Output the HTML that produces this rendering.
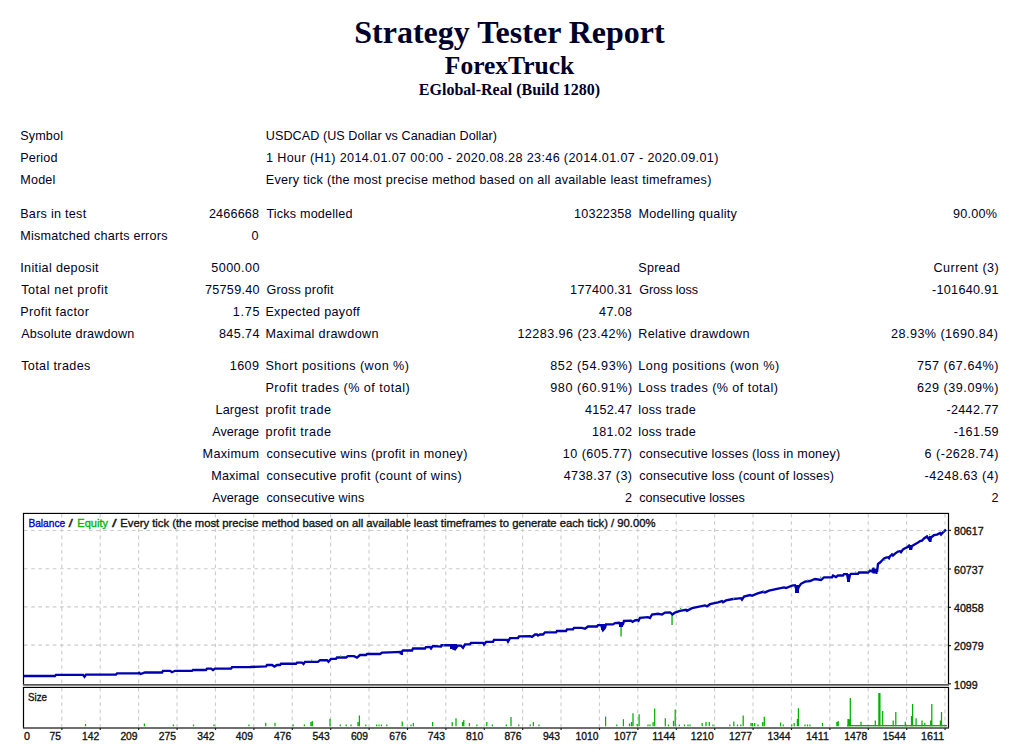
<!DOCTYPE html>
<html><head><meta charset="utf-8"><title>Strategy Tester: ForexTruck</title>
<style>
html,body{margin:0;padding:0;background:#fff;}
body{width:1019px;height:754px;overflow:hidden;position:relative;color:#00002a;}
.t{position:absolute;left:0;width:1019px;text-align:center;font-family:"Liberation Serif",serif;font-weight:bold;white-space:nowrap;}
.c{position:absolute;font-family:"Liberation Sans",sans-serif;font-size:12.6px;line-height:22px;letter-spacing:0.25px;white-space:nowrap;color:#000024;}
.r{text-align:right;}
#chart{position:absolute;left:0;top:0;}
</style></head>
<body>
<div class="t" id="t1" style="top:12px;font-size:32px;line-height:40px;">Strategy Tester Report</div>
<div class="t" id="t2" style="top:51px;font-size:25.5px;line-height:30px;">ForexTruck</div>
<div class="t" id="t3" style="top:80px;font-size:16px;line-height:20px;">EGlobal-Real (Build 1280)</div>
<div class="c" style="top:124.7px;left:20.2px;letter-spacing:0.160px">Symbol</div>
<div class="c" style="top:124.7px;left:265.8px;letter-spacing:0.064px">USDCAD (US Dollar vs Canadian Dollar)</div>
<div class="c" style="top:146.7px;left:20.2px;letter-spacing:0.180px">Period</div>
<div class="c" style="top:146.7px;left:266.0px;letter-spacing:0.371px">1 Hour (H1) 2014.01.07 00:00 - 2020.08.28 23:46 (2014.01.07 - 2020.09.01)</div>
<div class="c" style="top:168.8px;left:20.2px;letter-spacing:0.225px">Model</div>
<div class="c" style="top:168.8px;left:265.8px;letter-spacing:0.276px">Every tick (the most precise method based on all available least timeframes)</div>
<div class="c" style="top:202.5px;left:20.2px;letter-spacing:0.273px">Bars in test</div>
<div class="c" style="top:202.5px;left:208.9px;letter-spacing:0.183px">2466668</div>
<div class="c" style="top:202.5px;left:266.4px;letter-spacing:0.192px">Ticks modelled</div>
<div class="c" style="top:202.5px;left:574.1px;letter-spacing:0.186px">10322358</div>
<div class="c" style="top:202.5px;left:638.5px;letter-spacing:0.288px">Modelling quality</div>
<div class="c" style="top:202.5px;left:953.0px;letter-spacing:0.260px">90.00%</div>
<div class="c" style="top:224.5px;left:20.2px;letter-spacing:0.226px">Mismatched charts errors</div>
<div class="c" style="top:224.5px;left:251.6px;letter-spacing:0.000px">0</div>
<div class="c" style="top:256.7px;left:20.2px;letter-spacing:0.350px">Initial deposit</div>
<div class="c" style="top:256.7px;left:211.2px;letter-spacing:0.467px">5000.00</div>
<div class="c" style="top:256.7px;left:638.3px;letter-spacing:0.220px">Spread</div>
<div class="c" style="top:256.7px;left:933.6px;letter-spacing:0.420px">Current (3)</div>
<div class="c" style="top:278.7px;left:21.2px;letter-spacing:0.500px">Total net profit</div>
<div class="c" style="top:278.7px;left:205.0px;letter-spacing:0.286px">75759.40</div>
<div class="c" style="top:278.7px;left:266.4px;letter-spacing:0.191px">Gross profit</div>
<div class="c" style="top:278.7px;left:570.1px;letter-spacing:0.312px">177400.31</div>
<div class="c" style="top:278.7px;left:639.3px;letter-spacing:-0.089px">Gross loss</div>
<div class="c" style="top:278.7px;left:931.9px;letter-spacing:0.322px">-101640.91</div>
<div class="c" style="top:300.7px;left:20.2px;letter-spacing:0.358px">Profit factor</div>
<div class="c" style="top:300.7px;left:232.7px;letter-spacing:0.767px">1.75</div>
<div class="c" style="top:300.7px;left:265.4px;letter-spacing:0.314px">Expected payoff</div>
<div class="c" style="top:300.7px;left:599.0px;letter-spacing:0.400px">47.08</div>
<div class="c" style="top:322.7px;left:21.2px;letter-spacing:0.200px">Absolute drawdown</div>
<div class="c" style="top:322.7px;left:218.9px;letter-spacing:0.420px">845.74</div>
<div class="c" style="top:322.7px;left:265.4px;letter-spacing:0.353px">Maximal drawdown</div>
<div class="c" style="top:322.7px;left:517.4px;letter-spacing:0.450px">12283.96 (23.42%)</div>
<div class="c" style="top:322.7px;left:638.3px;letter-spacing:0.300px">Relative drawdown</div>
<div class="c" style="top:322.7px;left:891.1px;letter-spacing:0.447px">28.93% (1690.84)</div>
<div class="c" style="top:354.5px;left:21.2px;letter-spacing:0.364px">Total trades</div>
<div class="c" style="top:354.5px;left:229.8px;letter-spacing:0.400px">1609</div>
<div class="c" style="top:354.5px;left:265.4px;letter-spacing:0.482px">Short positions (won %)</div>
<div class="c" style="top:354.5px;left:550.3px;letter-spacing:0.573px">852 (54.93%)</div>
<div class="c" style="top:354.5px;left:638.3px;letter-spacing:0.471px">Long positions (won %)</div>
<div class="c" style="top:354.5px;left:916.9px;letter-spacing:0.536px">757 (67.64%)</div>
<div class="c" style="top:376.7px;left:265.4px;letter-spacing:0.480px">Profit trades (% of total)</div>
<div class="c" style="top:376.7px;left:550.3px;letter-spacing:0.573px">980 (60.91%)</div>
<div class="c" style="top:376.7px;left:638.3px;letter-spacing:0.439px">Loss trades (% of total)</div>
<div class="c" style="top:376.7px;left:916.9px;letter-spacing:0.536px">629 (39.09%)</div>
<div class="c" style="top:398.5px;left:215.5px;letter-spacing:0.150px">Largest</div>
<div class="c" style="top:398.5px;left:265.4px;letter-spacing:0.491px">profit trade</div>
<div class="c" style="top:398.5px;left:584.9px;letter-spacing:0.283px">4152.47</div>
<div class="c" style="top:398.5px;left:638.3px;letter-spacing:0.311px">loss trade</div>
<div class="c" style="top:398.5px;left:946.4px;letter-spacing:0.343px">-2442.77</div>
<div class="c" style="top:420.5px;left:212.2px;letter-spacing:0.033px">Average</div>
<div class="c" style="top:420.5px;left:265.4px;letter-spacing:0.491px">profit trade</div>
<div class="c" style="top:420.5px;left:591.9px;letter-spacing:0.340px">181.02</div>
<div class="c" style="top:420.5px;left:638.3px;letter-spacing:0.311px">loss trade</div>
<div class="c" style="top:420.5px;left:953.7px;letter-spacing:0.350px">-161.59</div>
<div class="c" style="top:443.0px;left:202.6px;letter-spacing:0.300px">Maximum</div>
<div class="c" style="top:443.0px;left:266.4px;letter-spacing:0.345px">consecutive wins (profit in money)</div>
<div class="c" style="top:443.0px;left:562.7px;letter-spacing:0.490px">10 (605.77)</div>
<div class="c" style="top:443.0px;left:639.3px;letter-spacing:0.191px">consecutive losses (loss in money)</div>
<div class="c" style="top:443.0px;left:924.6px;letter-spacing:0.473px">6 (-2628.74)</div>
<div class="c" style="top:465.0px;left:211.2px;letter-spacing:0.200px">Maximal</div>
<div class="c" style="top:465.0px;left:266.4px;letter-spacing:0.358px">consecutive profit (count of wins)</div>
<div class="c" style="top:465.0px;left:563.7px;letter-spacing:0.390px">4738.37 (3)</div>
<div class="c" style="top:465.0px;left:639.3px;letter-spacing:0.194px">consecutive loss (count of losses)</div>
<div class="c" style="top:465.0px;left:924.6px;letter-spacing:0.473px">-4248.63 (4)</div>
<div class="c" style="top:487.0px;left:212.2px;letter-spacing:0.033px">Average</div>
<div class="c" style="top:487.0px;left:266.4px;letter-spacing:0.180px">consecutive wins</div>
<div class="c" style="top:487.0px;left:625.1px;letter-spacing:0.000px">2</div>
<div class="c" style="top:487.0px;left:639.3px;letter-spacing:-0.012px">consecutive losses</div>
<div class="c" style="top:487.0px;left:991.6px;letter-spacing:0.000px">2</div>
<svg id="chart" width="1019" height="754" viewBox="0 0 1019 754" style="position:absolute;left:0;top:0">
<path d="M61.80 514V684 M61.80 688V727 M100.20 514V684 M100.20 688V727 M138.60 514V684 M138.60 688V727 M177.00 514V684 M177.00 688V727 M215.40 514V684 M215.40 688V727 M253.80 514V684 M253.80 688V727 M292.20 514V684 M292.20 688V727 M330.60 514V684 M330.60 688V727 M369.00 514V684 M369.00 688V727 M407.40 514V684 M407.40 688V727 M445.80 514V684 M445.80 688V727 M484.20 514V684 M484.20 688V727 M522.60 514V684 M522.60 688V727 M561.00 514V684 M561.00 688V727 M599.40 514V684 M599.40 688V727 M637.80 514V684 M637.80 688V727 M676.20 514V684 M676.20 688V727 M714.60 514V684 M714.60 688V727 M753.00 514V684 M753.00 688V727 M791.40 514V684 M791.40 688V727 M829.80 514V684 M829.80 688V727 M868.20 514V684 M868.20 688V727 M906.60 514V684 M906.60 688V727 M945.00 514V684 M945.00 688V727 M24 530.50H948 M24 568.70H948 M24 606.90H948 M24 645.10H948" stroke="#cbcbcb" stroke-width="1.1" stroke-dasharray="3.6 3.6" fill="none"/>
<rect x="23" y="512" width="926" height="1" fill="#d8d8d8"/>
<path d="M23.5 685V513.5H948.5V685" stroke="#000" stroke-width="1.2" fill="none"/>
<rect x="23" y="684" width="926" height="1" fill="#555"/>
<rect x="23" y="685" width="926" height="1" fill="#8a8a8a"/>
<rect x="23" y="686" width="926" height="1" fill="#d4d4d4"/>
<path d="M23.5 728V687.5H948.5V728" stroke="#000" stroke-width="1.2" fill="none"/>
<rect x="23" y="727.3" width="926" height="1.4" fill="#333"/>
<rect x="949" y="529.8" width="2" height="1.2" fill="#222"/>
<rect x="949" y="568.4" width="2" height="1.2" fill="#222"/>
<rect x="949" y="606.7" width="2" height="1.2" fill="#222"/>
<rect x="949" y="645.0" width="2" height="1.2" fill="#222"/>
<rect x="949" y="683.2" width="2" height="1.2" fill="#222"/>
<rect x="61.30" y="728" width="1.2" height="2" fill="#222"/>
<rect x="99.70" y="728" width="1.2" height="2" fill="#222"/>
<rect x="138.10" y="728" width="1.2" height="2" fill="#222"/>
<rect x="176.50" y="728" width="1.2" height="2" fill="#222"/>
<rect x="214.90" y="728" width="1.2" height="2" fill="#222"/>
<rect x="253.30" y="728" width="1.2" height="2" fill="#222"/>
<rect x="291.70" y="728" width="1.2" height="2" fill="#222"/>
<rect x="330.10" y="728" width="1.2" height="2" fill="#222"/>
<rect x="368.50" y="728" width="1.2" height="2" fill="#222"/>
<rect x="406.90" y="728" width="1.2" height="2" fill="#222"/>
<rect x="445.30" y="728" width="1.2" height="2" fill="#222"/>
<rect x="483.70" y="728" width="1.2" height="2" fill="#222"/>
<rect x="522.10" y="728" width="1.2" height="2" fill="#222"/>
<rect x="560.50" y="728" width="1.2" height="2" fill="#222"/>
<rect x="598.90" y="728" width="1.2" height="2" fill="#222"/>
<rect x="637.30" y="728" width="1.2" height="2" fill="#222"/>
<rect x="675.70" y="728" width="1.2" height="2" fill="#222"/>
<rect x="714.10" y="728" width="1.2" height="2" fill="#222"/>
<rect x="752.50" y="728" width="1.2" height="2" fill="#222"/>
<rect x="790.90" y="728" width="1.2" height="2" fill="#222"/>
<rect x="829.30" y="728" width="1.2" height="2" fill="#222"/>
<rect x="867.70" y="728" width="1.2" height="2" fill="#222"/>
<rect x="906.10" y="728" width="1.2" height="2" fill="#222"/>
<rect x="944.50" y="728" width="1.2" height="2" fill="#222"/>
<text x="954" y="535.2" font-family="Liberation Sans" font-size="11.6" stroke-width="0.35" fill="#111" stroke="#111" textLength="29.6" lengthAdjust="spacingAndGlyphs">80617</text>
<text x="954" y="573.8" font-family="Liberation Sans" font-size="11.6" stroke-width="0.35" fill="#111" stroke="#111" textLength="29.6" lengthAdjust="spacingAndGlyphs">60737</text>
<text x="954" y="612.1" font-family="Liberation Sans" font-size="11.6" stroke-width="0.35" fill="#111" stroke="#111" textLength="29.6" lengthAdjust="spacingAndGlyphs">40858</text>
<text x="954" y="650.4" font-family="Liberation Sans" font-size="11.6" stroke-width="0.35" fill="#111" stroke="#111" textLength="29.6" lengthAdjust="spacingAndGlyphs">20979</text>
<text x="954" y="688.6" font-family="Liberation Sans" font-size="11.6" stroke-width="0.35" fill="#111" stroke="#111" textLength="23.7" lengthAdjust="spacingAndGlyphs">1099</text>
<text x="24" y="740.3" font-family="Liberation Sans" font-size="11.6" stroke-width="0.35" fill="#111" stroke="#111" textLength="6" lengthAdjust="spacingAndGlyphs">0</text>
<text x="49.4" y="740.3" font-family="Liberation Sans" font-size="11.6" stroke-width="0.35" fill="#111" stroke="#111" textLength="11.5" lengthAdjust="spacingAndGlyphs">75</text>
<text x="82.0" y="740.3" font-family="Liberation Sans" font-size="11.6" stroke-width="0.35" fill="#111" stroke="#111" textLength="17.2" lengthAdjust="spacingAndGlyphs">142</text>
<text x="120.4" y="740.3" font-family="Liberation Sans" font-size="11.6" stroke-width="0.35" fill="#111" stroke="#111" textLength="17.2" lengthAdjust="spacingAndGlyphs">209</text>
<text x="158.8" y="740.3" font-family="Liberation Sans" font-size="11.6" stroke-width="0.35" fill="#111" stroke="#111" textLength="17.2" lengthAdjust="spacingAndGlyphs">275</text>
<text x="197.2" y="740.3" font-family="Liberation Sans" font-size="11.6" stroke-width="0.35" fill="#111" stroke="#111" textLength="17.2" lengthAdjust="spacingAndGlyphs">342</text>
<text x="235.7" y="740.3" font-family="Liberation Sans" font-size="11.6" stroke-width="0.35" fill="#111" stroke="#111" textLength="17.2" lengthAdjust="spacingAndGlyphs">409</text>
<text x="274.1" y="740.3" font-family="Liberation Sans" font-size="11.6" stroke-width="0.35" fill="#111" stroke="#111" textLength="17.2" lengthAdjust="spacingAndGlyphs">476</text>
<text x="312.5" y="740.3" font-family="Liberation Sans" font-size="11.6" stroke-width="0.35" fill="#111" stroke="#111" textLength="17.2" lengthAdjust="spacingAndGlyphs">543</text>
<text x="350.9" y="740.3" font-family="Liberation Sans" font-size="11.6" stroke-width="0.35" fill="#111" stroke="#111" textLength="17.2" lengthAdjust="spacingAndGlyphs">609</text>
<text x="389.2" y="740.3" font-family="Liberation Sans" font-size="11.6" stroke-width="0.35" fill="#111" stroke="#111" textLength="17.2" lengthAdjust="spacingAndGlyphs">676</text>
<text x="427.7" y="740.3" font-family="Liberation Sans" font-size="11.6" stroke-width="0.35" fill="#111" stroke="#111" textLength="17.2" lengthAdjust="spacingAndGlyphs">743</text>
<text x="466.1" y="740.3" font-family="Liberation Sans" font-size="11.6" stroke-width="0.35" fill="#111" stroke="#111" textLength="17.2" lengthAdjust="spacingAndGlyphs">810</text>
<text x="504.4" y="740.3" font-family="Liberation Sans" font-size="11.6" stroke-width="0.35" fill="#111" stroke="#111" textLength="17.2" lengthAdjust="spacingAndGlyphs">876</text>
<text x="542.9" y="740.3" font-family="Liberation Sans" font-size="11.6" stroke-width="0.35" fill="#111" stroke="#111" textLength="17.2" lengthAdjust="spacingAndGlyphs">943</text>
<text x="575.5" y="740.3" font-family="Liberation Sans" font-size="11.6" stroke-width="0.35" fill="#111" stroke="#111" textLength="23.0" lengthAdjust="spacingAndGlyphs">1010</text>
<text x="613.9" y="740.3" font-family="Liberation Sans" font-size="11.6" stroke-width="0.35" fill="#111" stroke="#111" textLength="23.0" lengthAdjust="spacingAndGlyphs">1077</text>
<text x="652.3" y="740.3" font-family="Liberation Sans" font-size="11.6" stroke-width="0.35" fill="#111" stroke="#111" textLength="23.0" lengthAdjust="spacingAndGlyphs">1144</text>
<text x="690.7" y="740.3" font-family="Liberation Sans" font-size="11.6" stroke-width="0.35" fill="#111" stroke="#111" textLength="23.0" lengthAdjust="spacingAndGlyphs">1210</text>
<text x="729.1" y="740.3" font-family="Liberation Sans" font-size="11.6" stroke-width="0.35" fill="#111" stroke="#111" textLength="23.0" lengthAdjust="spacingAndGlyphs">1277</text>
<text x="767.5" y="740.3" font-family="Liberation Sans" font-size="11.6" stroke-width="0.35" fill="#111" stroke="#111" textLength="23.0" lengthAdjust="spacingAndGlyphs">1344</text>
<text x="805.9" y="740.3" font-family="Liberation Sans" font-size="11.6" stroke-width="0.35" fill="#111" stroke="#111" textLength="23.0" lengthAdjust="spacingAndGlyphs">1411</text>
<text x="844.3" y="740.3" font-family="Liberation Sans" font-size="11.6" stroke-width="0.35" fill="#111" stroke="#111" textLength="23.0" lengthAdjust="spacingAndGlyphs">1478</text>
<text x="882.7" y="740.3" font-family="Liberation Sans" font-size="11.6" stroke-width="0.35" fill="#111" stroke="#111" textLength="23.0" lengthAdjust="spacingAndGlyphs">1544</text>
<text x="921.1" y="740.3" font-family="Liberation Sans" font-size="11.6" stroke-width="0.35" fill="#111" stroke="#111" textLength="23.0" lengthAdjust="spacingAndGlyphs">1611</text>
<text x="28" y="701" font-family="Liberation Sans" font-size="11.6" stroke-width="0.35" fill="#111" stroke="#111" textLength="19" lengthAdjust="spacingAndGlyphs">Size</text>
<text x="28.4" y="527.2" font-family="Liberation Sans" font-size="11.6" stroke-width="0.35" fill="#0000c8" stroke="#0000c8" textLength="36.8" lengthAdjust="spacingAndGlyphs">Balance</text>
<text x="68.6" y="527.2" font-family="Liberation Sans" font-size="11.6" stroke-width="0.35" fill="#222" stroke="#222" textLength="4.4" lengthAdjust="spacingAndGlyphs">/</text>
<text x="77.3" y="527.2" font-family="Liberation Sans" font-size="11.6" stroke-width="0.35" fill="#00b400" stroke="#00b400" textLength="30.7" lengthAdjust="spacingAndGlyphs">Equity</text>
<text x="112" y="527.2" font-family="Liberation Sans" font-size="11.6" stroke-width="0.35" fill="#111" stroke="#111" textLength="4.7" lengthAdjust="spacingAndGlyphs">/</text>
<text x="120.3" y="527.2" font-family="Liberation Sans" font-size="11.6" stroke-width="0.35" fill="#111" stroke="#111" textLength="535.2" lengthAdjust="spacingAndGlyphs">Every tick (the most precise method based on all available least timeframes to generate each tick) / 90.00%</text>
<rect x="620.4" y="624" width="1.3" height="12.5" fill="#00b000"/>
<rect x="671.4" y="615" width="1.3" height="10" fill="#00b000"/>
<path d="M24 676 L55 676 L56 674.8 L83 674.8 L84.5 676.8 L86 674.6 L116 674.5 L117 673.4 L138 673.4 L139 672.8 L140.5 674 L143 673.2 L145 672.5 L162 672.5 L163 670.8 L170 670.8 L172 672.2 L175 670.8 L192 670.8 L193 670 L206 670 L207 668.6 L211 668.6 L213 670 L215 668.6 L231 668.6 L232 667.2 L250 667 L266 666.4 L267 665 L272 665 L274.5 666.6 L277 665 L280 665 L281 663.7 L296 663.7 L297 662.6 L302 662.6 L303.5 664 L305 661.9 L318 661.9 L320 660.2 L327 660.2 L328.5 661.8 L331 658.8 L336 658.8 L337 657.5 L346 657.5 L348 656.1 L354 656.1 L357 657.6 L360 655 L366 655 L367 654 L380 654 L382 652.7 L390 652.3 L400 651.9 L401 654 L402 651.5 L403 650.5 L412 650.5 L413 648.5 L425 648.5 L426 647.1 L430 647.1 L431 648.5 L432 647 L433 646 L441 646.6 L441.5 645.2 L450 645.2 L453 648.6 L455 649.4 L457 646.6 L458 645.6 L461 645.6 L463 647.8 L465 644.3 L470 644.3 L471 642.9 L483 642.9 L484 644.4 L486 641.9 L493 641.9 L494 639.9 L507 639.9 L508 641.6 L510 638.1 L518 638.1 L519 636.4 L530 636.1 L532 636.9 L535 634.5 L537 634.5 L538 635.5 L540 634.5 L543 634.5 L545 632.4 L556 632.4 L557 631.0 L566 631.0 L567 629.3 L573 629.3 L574 627.9 L582 627.9 L585 628.8 L588 626.5 L597 626.5 L598 625.1 L601 625.1 L603 630.1 L605 627.6 L606 624.4 L613 624.4 L615 623.1 L619 622.8 L621 625.5 L623 624.2 L624 621 L631 620.6 L632.5 621.8 L635 620.4 L637 620 L638.5 620.8 L640 617.8 L648 617.2 L650 618 L652 614.5 L658 613.8 L662 614.6 L665 612.6 L670 612.4 L672.5 614.5 L675 612.6 L680 610.8 L686 609.8 L687 610.8 L692 608.2 L698 606.8 L705 605.4 L707 606.4 L710 604.2 L718 602.4 L722 601.2 L723 602.2 L726 600.4 L733 599.0 L737 598.6 L741 598.2 L742 599.6 L744 596.6 L750 595.0 L752 595.8 L757 593.6 L763 591.8 L765 592.4 L769 590.6 L777 588.8 L784 587.4 L786 588.0 L792 585.6 L795 585.2 L797 591.5 L799 586.5 L801 583.8 L805 581.6 L810 581 L815 579 L821 580 L824 577.3 L832 577.3 L833 575.5 L836 577 L838 575.5 L843 575.5 L844 574.1 L847 574.1 L848.5 581.5 L850 575 L851 573.8 L858 573.8 L859 572.5 L868 572.5 L870 570.6 L872 571.5 L873 568.5 L875 573 L876 569 L877 572 L878 564 L880 562.5 L882 560.5 L883 559.5 L884 558.5 L886 557.6 L888 557.2 L889 558.2 L890 556.2 L892 554.4 L893 555.6 L895 553.6 L898 551.6 L900 551.2 L901 552.2 L903 549.4 L905 548.2 L907 547.4 L909 545.6 L910 547.5 L911 549.6 L912 546 L915 544.2 L918 542.6 L920 541 L922 540.6 L924 538.4 L927 536.4 L929 539.5 L930 541 L931 537.5 L934 535.2 L937 534.6 L940 533 L941 534.6 L942 533.4 L946 529.6" stroke="#0000b0" stroke-width="2.35" fill="none" stroke-linejoin="miter" stroke-miterlimit="2"/>
<rect x="450" y="644" width="7" height="5" fill="#0000b0"/>
<rect x="601" y="624" width="4" height="6" fill="#0000b0"/>
<rect x="619" y="622" width="4" height="5" fill="#0000b0"/>
<rect x="795" y="585" width="4" height="8" fill="#0000b0"/>
<rect x="847" y="574" width="3" height="8" fill="#0000b0"/>
<rect x="872.5" y="567.5" width="2" height="6" fill="#0000b0"/>
<rect x="875.5" y="569" width="2" height="5" fill="#0000b0"/>
<rect x="909" y="545" width="3" height="5" fill="#0000b0"/>
<rect x="929" y="536" width="2.5" height="6" fill="#0000b0"/>
<rect x="401" y="651" width="2" height="4" fill="#0000b0"/>
<rect x="311" y="659.5" width="1.3" height="1.3" fill="#20c020"/>
<rect x="340" y="655.5" width="1.3" height="1.3" fill="#20c020"/>
<rect x="443" y="644.5" width="1.3" height="1.3" fill="#20c020"/>
<rect x="549" y="630.5" width="1.3" height="1.3" fill="#20c020"/>
<rect x="680" y="608.0" width="1.3" height="1.3" fill="#20c020"/>
<rect x="733" y="598.0" width="1.3" height="1.3" fill="#20c020"/>
<rect x="763" y="590.5" width="1.3" height="1.3" fill="#20c020"/>
<rect x="807" y="579.5" width="1.3" height="1.3" fill="#20c020"/>
<rect x="820" y="576.5" width="1.3" height="1.3" fill="#20c020"/>
<rect x="855" y="571.5" width="1.3" height="1.3" fill="#20c020"/>
<rect x="867" y="570.5" width="1.3" height="1.3" fill="#20c020"/>
<rect x="884" y="559.5" width="1.3" height="1.3" fill="#20c020"/>
<rect x="929" y="534.0" width="1.3" height="1.3" fill="#20c020"/>
<rect x="943" y="530.5" width="1.3" height="1.3" fill="#20c020"/>
<path d="M85.5 724.0V726.3 M144.4 723.5V726.3 M173.4 724.5V726.3 M193.5 724.5V726.3 M214.0 724.5V726.3 M249.0 724.5V726.3 M265.7 722.7V726.3 M275.0 722.7V726.3 M293.2 724.5V726.3 M304.4 724.5V726.3 M310.9 722.0V726.3 M312.3 721.0V726.3 M330.0 718.8V726.3 M340.3 724.5V726.3 M346.2 724.5V726.3 M351.0 724.5V726.3 M358.0 722.0V726.3 M359.4 715.4V726.3 M365.8 724.5V726.3 M376.6 724.5V726.3 M379.0 724.5V726.3 M381.5 724.5V726.3 M386.8 724.5V726.3 M402.2 721.4V726.3 M411.0 724.5V726.3 M413.4 723.0V726.3 M432.6 722.0V726.3 M452.2 722.0V726.3 M456.0 718.2V726.3 M462.5 722.0V726.3 M463.8 720.0V726.3 M469.4 723.0V726.3 M476.9 724.5V726.3 M486.8 722.0V726.3 M492.4 724.5V726.3 M506.3 724.5V726.3 M511.0 717.0V726.3 M518.8 724.5V726.3 M530.2 724.5V726.3 M533.4 722.0V726.3 M539.0 724.5V726.3 M605.6 716.6V726.3 M616.8 724.5V726.3 M623.4 719.2V726.3 M629.5 723.5V726.3 M631.5 722.0V726.3 M633.0 713.3V726.3 M637.2 723.9V726.3 M639.1 714.3V726.3 M648.0 724.5V726.3 M650.0 724.5V726.3 M653.1 722.0V726.3 M654.7 708.6V726.3 M665.3 718.2V726.3 M668.4 724.5V726.3 M673.5 720.7V726.3 M675.2 709.5V726.3 M679.3 724.5V726.3 M684.5 724.5V726.3 M688.0 724.5V726.3 M690.0 724.5V726.3 M702.2 723.0V726.3 M706.0 722.0V726.3 M709.3 722.0V726.3 M713.0 724.5V726.3 M729.8 724.5V726.3 M733.8 721.4V726.3 M737.5 724.5V726.3 M740.8 724.5V726.3 M743.2 715.5V726.3 M751.0 723.0V726.3 M752.5 723.0V726.3 M754.7 723.0V726.3 M758.0 724.5V726.3 M762.7 722.0V726.3 M764.3 716.8V726.3 M780.6 722.5V726.3 M783.2 724.5V726.3 M791.8 724.5V726.3 M794.2 723.0V726.3 M797.4 719.0V726.3 M798.4 708.2V726.3 M805.0 724.5V726.3 M807.5 724.5V726.3 M810.0 724.5V726.3 M822.5 723.0V726.3 M836.9 722.0V726.3 M838.2 721.0V726.3 M848.0 719.0V726.3 M849.2 719.3V726.3 M850.3 698.0V726.3 M861.0 721.7V726.3 M875.3 720.4V726.3 M878.9 693.1V726.3 M879.9 693.1V726.3 M882.7 710.9V726.3 M893.2 720.4V726.3 M895.8 712.0V726.3 M905.3 721.7V726.3 M911.5 716.1V726.3 M912.6 703.9V726.3 M916.1 718.3V726.3 M922.0 720.4V726.3 M924.8 722.8V726.3 M930.7 720.4V726.3 M931.8 703.9V726.3 M940.4 720.4V726.3 M941.5 712.0V726.3" stroke="#00b000" stroke-width="1.25" fill="none"/>
<rect x="847" y="725" width="100" height="1.3" fill="#00b000"/>
</svg>
</body></html>
